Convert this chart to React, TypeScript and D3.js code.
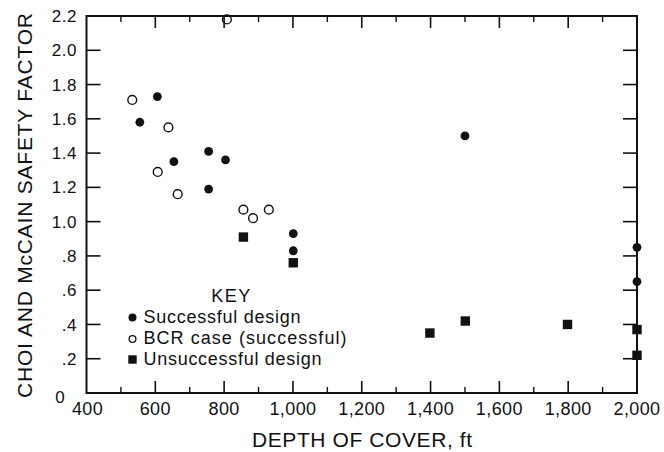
import React from "react";
import * as d3 from "d3";

// Depth of cover (ft) and Choi & McCain safety factor, by case type
const successfulDepth = [555, 606, 654, 755, 755, 804, 1001, 1001, 1500, 2000, 2000];
const successfulFactor = [1.58, 1.73, 1.35, 1.41, 1.19, 1.36, 0.93, 0.83, 1.5, 0.85, 0.65];

const bcrDepth = [533, 607, 638, 665, 808, 856, 884, 930];
const bcrFactor = [1.71, 1.29, 1.55, 1.16, 2.18, 1.07, 1.02, 1.07];

const unsuccessfulDepth = [856, 1001, 1398, 1501, 1798, 2000, 2000];
const unsuccessfulFactor = [0.91, 0.76, 0.35, 0.42, 0.4, 0.37, 0.22];

const xMajorTicks = [400, 600, 800, 1000, 1200, 1400, 1600, 1800, 2000];
const xTickLabels = ["400", "600", "800", "1,000", "1,200", "1,400", "1,600", "1,800", "2,000"];
const xMinorTicks = [500, 700, 900, 1100, 1300, 1500, 1700, 1900];
const yTicks = [0.2, 0.4, 0.6, 0.8, 1.0, 1.2, 1.4, 1.6, 1.8, 2.0];
const yTickLabels = [".2", ".4", ".6", ".8", "1.0", "1.2", "1.4", "1.6", "1.8", "2.0"];

const legendLabels = ["Successful design", "BCR case (successful)", "Unsuccessful design"];

const W = 664;
const H = 452;
const FONT = "'Liberation Sans', Arial, sans-serif";
const INK = "#111";

export default function App() {
  const left = 86.5;
  const right = 637;
  const top = 16;
  const bottom = 393;

  const x = d3.scaleLinear().domain([400, 2000]).range([left, right]);
  const y = d3.scaleLinear().domain([0, 2.2]).range([bottom, top]);

  const r = 4.4;
  const sq = 9.4;

  const successful = successfulDepth.map((d, i) => [d, successfulFactor[i]]);
  const bcr = bcrDepth.map((d, i) => [d, bcrFactor[i]]);
  const unsuccessful = unsuccessfulDepth.map((d, i) => [d, unsuccessfulFactor[i]]);

  const legendX = 132.5;
  const legendRows = [317.5, 339, 359.5];
  const legendBaselines = [323, 344, 365];
  const legendWidths = [157, 203, 178];

  return (
    <svg
      width={W}
      height={H}
      style={{ position: "absolute", left: 0, top: 0, background: "#fff" }}
      fontFamily={FONT}
    >
      <rect x={0} y={0} width={W} height={H} fill="#fff" />

      {/* frame */}
      <rect
        x={left}
        y={top}
        width={right - left}
        height={bottom - top}
        fill="none"
        stroke={INK}
        strokeWidth={2}
      />

      {/* bottom and top ticks, pointing inward */}
      {xMajorTicks.slice(1, -1).map((t) => (
        <g key={"xM" + t} stroke={INK} strokeWidth={1.6}>
          <line x1={x(t)} x2={x(t)} y1={bottom} y2={bottom - 12} />
          <line x1={x(t)} x2={x(t)} y1={top} y2={top + 12} />
        </g>
      ))}
      {xMinorTicks.map((t) => (
        <g key={"xm" + t} stroke={INK} strokeWidth={1.4}>
          <line x1={x(t)} x2={x(t)} y1={bottom} y2={bottom - 6} />
          <line x1={x(t)} x2={x(t)} y1={top} y2={top + 6} />
        </g>
      ))}

      {/* left and right ticks */}
      {yTicks.map((t) => (
        <g key={"y" + t} stroke={INK} strokeWidth={1.6}>
          <line x1={left} x2={left + 14} y1={y(t)} y2={y(t)} />
          <line x1={right} x2={right - 14} y1={y(t)} y2={y(t)} />
        </g>
      ))}

      {/* x tick labels */}
      {xMajorTicks.map((t, i) => (
        <text
          key={"xl" + t}
          x={x(t) + (i === 0 ? 1 : 0)}
          y={415}
          textAnchor="middle"
          fontSize={18}
          fill={INK}
          letterSpacing={0.4}
        >
          {xTickLabels[i]}
        </text>
      ))}

      {/* y tick labels */}
      {yTicks.map((t, i) => (
        <text
          key={"yl" + t}
          x={77}
          y={y(t)}
          dy="0.36em"
          textAnchor="end"
          fontSize={17}
          fill={INK}
          letterSpacing={0.5}
        >
          {yTickLabels[i]}
        </text>
      ))}
      <text x={77} y={y(2.2)} dy="0.36em" textAnchor="end" fontSize={17} fill={INK} letterSpacing={0.5}>
        2.2
      </text>
      <text x={60} y={y(0) + 4} dy="0.36em" textAnchor="middle" fontSize={17} fill={INK}>
        0
      </text>

      {/* axis titles */}
      <text
        x={362}
        y={447}
        textAnchor="middle"
        fontSize={21}
        fill={INK}
        textLength={220}
        lengthAdjust="spacing"
      >
        DEPTH OF COVER, ft
      </text>
      <text
        transform={`translate(32, 205.5) rotate(-90)`}
        textAnchor="middle"
        fontSize={21}
        fill={INK}
        textLength={385}
        lengthAdjust="spacing"
      >
        CHOI AND McCAIN SAFETY FACTOR
      </text>

      {/* data */}
      {successful.map(([d, f], i) => (
        <circle key={"s" + i} cx={x(d)} cy={y(f)} r={r} fill={INK} />
      ))}
      {bcr.map(([d, f], i) => (
        <circle key={"b" + i} cx={x(d)} cy={y(f)} r={r} fill="none" stroke={INK} strokeWidth={1.4} />
      ))}
      {unsuccessful.map(([d, f], i) => (
        <rect key={"u" + i} x={x(d) - sq / 2} y={y(f) - sq / 2} width={sq} height={sq} fill={INK} />
      ))}

      {/* key */}
      <text x={231.5} y={301.5} textAnchor="middle" fontSize={18} fill={INK} letterSpacing={1.5}>
        KEY
      </text>
      <circle cx={legendX} cy={legendRows[0]} r={4} fill={INK} />
      <circle cx={legendX} cy={legendRows[1]} r={3.4} fill="none" stroke={INK} strokeWidth={1.3} />
      <rect x={legendX - 4.2} y={legendRows[2] - 4.2} width={8.4} height={8.4} fill={INK} />
      {legendLabels.map((lab, i) => (
        <text
          key={lab}
          x={143.5}
          y={legendBaselines[i]}
          fontSize={18}
          fill={INK}
          textLength={legendWidths[i]}
          lengthAdjust="spacing"
        >
          {lab}
        </text>
      ))}
    </svg>
  );
}
